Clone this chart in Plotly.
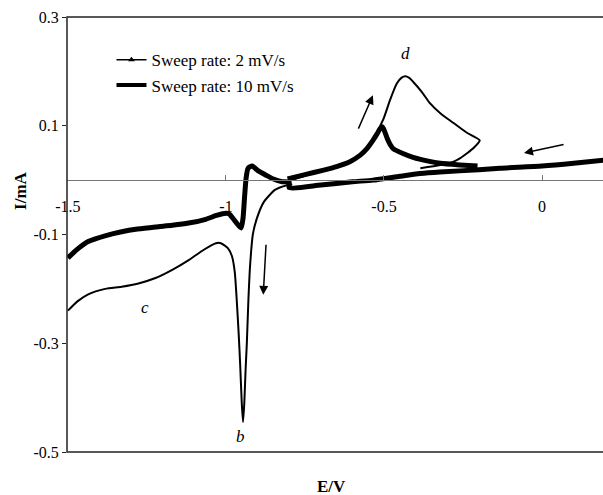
import plotly.graph_objects as go

# ---------------- data ----------------
# 2 mV/s : cathodic part (left, drawn from -0.8 V to -1.5 V)
E_2_cath = [-0.800, -0.822, -0.850, -0.873, -0.900, -0.917, -0.930, -0.936, -0.941, -0.946,
            -0.952, -0.965, -0.981, -0.990, -1.000, -1.030, -1.064, -1.118, -1.170, -1.223,
            -1.280, -1.330, -1.380, -1.436, -1.470, -1.500]
I_2_cath = [-0.004, -0.003, 0.002, 0.009, 0.018, 0.026, 0.022, 0.005, -0.030, -0.070,
            -0.088, -0.080, -0.068, -0.062, -0.061, -0.065, -0.072, -0.079, -0.083, -0.086,
            -0.090, -0.095, -0.102, -0.113, -0.127, -0.143]
# 2 mV/s : base line (right side)
E_2_base = [0.200, 0.100, 0.000, -0.133, -0.200, -0.323, -0.386, -0.450, -0.535, -0.600,
            -0.700, -0.800]
I_2_base = [0.037, 0.031, 0.026, 0.022, 0.019, 0.015, 0.012, 0.007, 0.000, -0.003,
            -0.009, -0.014]
# 2 mV/s : anodic branch
E_2_anod = [-0.805, -0.750, -0.694, -0.650, -0.608, -0.575, -0.554, -0.535, -0.522, -0.512,
            -0.506, -0.498, -0.490, -0.480, -0.471, -0.440, -0.408, -0.360, -0.322, -0.260,
            -0.204]
I_2_anod = [0.002, 0.010, 0.018, 0.025, 0.034, 0.046, 0.058, 0.073, 0.085, 0.095,
            0.098, 0.090, 0.077, 0.065, 0.058, 0.049, 0.042, 0.035, 0.031, 0.028,
            0.026]

# 10 mV/s : cathodic part with peak b
E_10_cath = [-0.790, -0.810, -0.845, -0.880, -0.902, -0.915, -0.924, -0.929, -0.934, -0.938,
             -0.942, -0.946, -0.950, -0.955, -0.960, -0.966, -0.972, -0.981, -0.994, -1.016,
             -1.032, -1.070, -1.118, -1.170, -1.223, -1.277, -1.330, -1.382, -1.436, -1.470,
             -1.500]
I_10_cath = [-0.008, -0.010, -0.018, -0.040, -0.070, -0.100, -0.160, -0.220, -0.300, -0.350,
             -0.410, -0.445, -0.410, -0.340, -0.280, -0.220, -0.170, -0.140, -0.125, -0.116,
             -0.116, -0.128, -0.147, -0.165, -0.180, -0.190, -0.196, -0.200, -0.210, -0.223,
             -0.240]
# 10 mV/s : anodic loop with peak d
E_10_anod = [-0.805, -0.750, -0.694, -0.650, -0.608, -0.575, -0.554, -0.535, -0.520, -0.500,
             -0.481, -0.459, -0.445, -0.433, -0.420, -0.408, -0.380, -0.354, -0.320, -0.280,
             -0.240, -0.197, -0.215, -0.236, -0.260, -0.280, -0.322, -0.385]
I_10_anod = [-0.002, 0.008, 0.017, 0.024, 0.033, 0.045, 0.057, 0.072, 0.090, 0.115,
             0.147, 0.178, 0.188, 0.191, 0.188, 0.181, 0.162, 0.141, 0.122, 0.105,
             0.088, 0.073, 0.060, 0.050, 0.040, 0.034, 0.028, 0.022]

x_tick_vals = [-1.5, -1.0, -0.5, 0.0]
x_tick_text = ["-1.5", "-1", "-0.5", "0"]
y_tick_vals = [-0.5, -0.3, -0.1, 0.1, 0.3]
y_tick_text = ["-0.5", "-0.3", "-0.1", "0.1", "0.3"]

label_2 = "Sweep rate: 2 mV/s"
label_10 = "Sweep rate: 10 mV/s"

# ---------------- figure ----------------
SERIF = "Liberation Serif, Times New Roman, serif"

x2 = E_2_base + E_2_cath + [None] + E_2_anod
y2 = I_2_base + I_2_cath + [None] + I_2_anod
x10 = E_10_cath + [None] + E_10_anod
y10 = I_10_cath + [None] + I_10_anod

fig = go.Figure()
fig.add_trace(go.Scatter(x=x10, y=y10, mode="lines", showlegend=False,
                         line=dict(color="black", width=2, shape="spline", smoothing=0.6),
                         connectgaps=False))
fig.add_trace(go.Scatter(x=x2, y=y2, mode="lines", showlegend=False,
                         line=dict(color="black", width=5, shape="spline", smoothing=0.6),
                         connectgaps=False))
# legend entries
fig.add_trace(go.Scatter(x=[None], y=[None], mode="lines+markers", name=label_2,
                         line=dict(color="black", width=1.5),
                         marker=dict(symbol="triangle-up", size=6, color="black")))
fig.add_trace(go.Scatter(x=[None], y=[None], mode="lines", name=label_10,
                         line=dict(color="black", width=4)))

fig.update_layout(
    width=603, height=495,
    margin=dict(l=67, r=0, t=17, b=43),
    paper_bgcolor="white", plot_bgcolor="white",
    font=dict(family=SERIF, size=16, color="black"),
    showlegend=True,
    legend=dict(x=0.083, y=0.942, xanchor="left", yanchor="top",
                bgcolor="rgba(0,0,0,0)", borderwidth=0,
                font=dict(family=SERIF, size=17, color="black"),
                tracegroupgap=0),
    xaxis=dict(range=[-1.503, 0.193], anchor="free", position=0.625,
               showgrid=False, zeroline=False, showline=True,
               linecolor="#777", linewidth=1,
               ticks="inside", ticklen=5, tickcolor="#777", tickwidth=1,
               tickvals=x_tick_vals, ticktext=x_tick_text,
               ticklabelstandoff=12,
               tickfont=dict(family=SERIF, size=16, color="black")),
    yaxis=dict(range=[-0.5, 0.3], showgrid=False, zeroline=False, showline=False,
               ticks="outside", ticklen=4, tickcolor="#222", tickwidth=1,
               tickvals=y_tick_vals, ticktext=y_tick_text,
               tickfont=dict(family=SERIF, size=16, color="black")),
    shapes=[dict(type="rect", xref="paper", yref="paper", x0=0, x1=1.05, y0=0, y1=1,
                 line=dict(color="#222", width=1.5), layer="above")],
)

annotations = [
    dict(text="<b>I/mA</b>", xref="paper", yref="paper", x=-0.088, y=0.602,
         xanchor="center", yanchor="middle",
         textangle=-90, showarrow=False, font=dict(family=SERIF, size=17)),
    dict(text="<b>E/V</b>", xref="paper", yref="paper", x=0.494, y=-0.08,
         xanchor="center", yanchor="middle",
         showarrow=False, font=dict(family=SERIF, size=17)),
    dict(text="<i>b</i>", x=-0.955, y=-0.472, showarrow=False, font=dict(family=SERIF, size=17)),
    dict(text="<i>c</i>", x=-1.255, y=-0.235, showarrow=False, font=dict(family=SERIF, size=17)),
    dict(text="<i>d</i>", x=-0.433, y=0.233, showarrow=False, font=dict(family=SERIF, size=17)),
]
arrows = [((-0.535, 0.156), (-0.583, 0.092)),
          ((-0.057, 0.050), (0.073, 0.066)),
          ((-0.882, -0.211), (-0.873, -0.116))]
for (hx, hy), (tx, ty) in arrows:
    annotations.append(dict(text="", x=hx, y=hy, ax=tx, ay=ty, axref="x", ayref="y",
                            xref="x", yref="y", showarrow=True, arrowhead=2,
                            arrowsize=1.2, arrowwidth=1.5, arrowcolor="black"))
fig.update_layout(annotations=annotations)

fig.write_html("out.html")
